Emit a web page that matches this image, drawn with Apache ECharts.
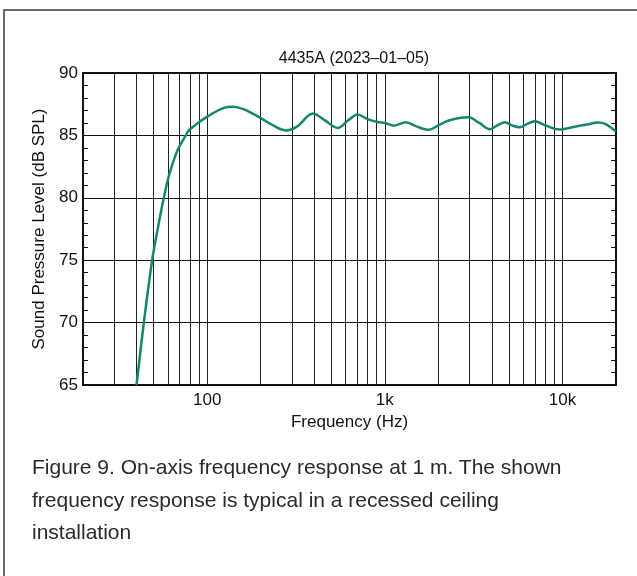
<!DOCTYPE html>
<html lang="en">
<head>
    <meta charset="UTF-8">
    <title>4435A frequency response</title>
    <style>
        html, body { margin: 0; padding: 0; background: #fff; overflow: hidden; }
        #frame { position: absolute; left: 3px; top: 9px; width: 800px; height: 800px; border: 2px solid #6a6a6a; }
        #main { position: absolute; left: 0; top: 0; width: 637px; height: 576px; }
        #caption { position: absolute; left: 32px; top: 451px; font-family: "Liberation Sans", Arial, sans-serif;
                   font-size: 21px; line-height: 32.5px; color: #2a2a2a; white-space: nowrap; }
    </style>
</head>
<body>
    <div id="frame"></div>
    <div id="main"></div>
    <div id="caption">Figure 9. On-axis frequency response at 1 m. The shown<br>frequency response is typical in a recessed ceiling<br>installation</div>
    <script src="https://cdn.jsdelivr.net/npm/echarts@6/dist/echarts.min.js"></script>
    <script>
    // frequency (Hz) and level (dB SPL)
    var freqs = [40, 44, 49, 52.5, 57, 61, 68, 74, 79, 88, 100, 124, 140, 160, 194, 235, 279, 320,
        394, 460, 543, 620, 703, 800, 909, 1000, 1126, 1309, 1520, 1768, 2000, 2290, 2950, 3400, 3908, 4300,
        4734, 5200, 5742, 6300, 6966, 8000, 9610, 11910, 14000, 15740, 17500, 20000];
    var levels = [65, 70, 75, 77.4, 80, 81.8, 83.8, 84.75, 85.4, 85.95, 86.5, 87.2, 87.3, 87.1, 86.5, 85.8, 85.4, 85.7,
        86.75, 86.2, 85.6, 86.2, 86.67, 86.3, 86.08, 86.0, 85.78, 86.05, 85.7, 85.45, 85.8, 86.2, 86.45, 86.0, 85.5, 85.8,
        86.06, 85.8, 85.65, 85.9, 86.14, 85.8, 85.47, 85.72, 85.9, 86.03, 85.9, 85.3];
    var gridFreqs = [30, 40, 50, 60, 70, 80, 90, 100, 200, 300, 400, 500, 600, 700, 800, 900, 1000,
        2000, 3000, 4000, 5000, 6000, 7000, 8000, 9000, 10000];
    var xLabels = { 100: '100', 1000: '1k', 10000: '10k' };

    var points = freqs.map(function(f, i) { return [f, levels[i]]; });
    var font = '"Liberation Sans", Arial, sans-serif';

    var myChart = echarts.init(document.getElementById('main'));

    var yCommon = {
        type: 'value',
        min: 65,
        max: 90,
        interval: 5,
        axisLine: { show: true, lineStyle: { color: '#111', width: 2 } },
        axisTick: { show: false, inside: true },
        minorTick: { show: true, splitNumber: 5, length: 5, lineStyle: { color: '#111', width: 1 } }
    };

    var option = {
        animation: false,
        title: {
            text: '4435A (2023\u201301\u201305)',
            left: 349,
            textAlign: 'center',
            top: 46,
            textStyle: { fontFamily: font, fontSize: 16, fontWeight: 'normal', color: '#111' }
        },
        grid: {
            left: 83,
            top: 73,
            right: 21,
            bottom: 191,
            show: true,
            borderColor: '#111',
            borderWidth: 2
        },
        xAxis: {
            type: 'log',
            logBase: 10,
            min: 20,
            max: 20000,
            name: 'Frequency (Hz)',
            nameLocation: 'middle',
            nameGap: 26,
            nameTextStyle: { fontFamily: font, fontSize: 17, color: '#111' },
            axisLine: { lineStyle: { color: '#111', width: 2 } },
            axisTick: { show: false },
            splitLine: { show: false },
            axisLabel: {
                margin: 7,
                fontFamily: font,
                fontSize: 17,
                color: '#111',
                showMinLabel: false,
                showMaxLabel: false,
                formatter: function(v) { return xLabels[Math.round(v)] || ''; }
            }
        },
        yAxis: [
            Object.assign({}, yCommon, {
                position: 'left',
                name: 'Sound Pressure Level (dB SPL)',
                nameLocation: 'middle',
                nameGap: 34,
                nameTextStyle: { fontFamily: font, fontSize: 17, color: '#111' },
                axisLabel: { margin: 5, fontFamily: font, fontSize: 17, color: '#111' },
                splitLine: { show: true, lineStyle: { color: '#111', width: 1 } }
            }),
            Object.assign({}, yCommon, {
                position: 'right',
                axisLabel: { show: false },
                splitLine: { show: false }
            })
        ],
        series: [{
            type: 'line',
            data: points,
            smooth: 0.35,
            symbol: 'none',
            clip: true,
            lineStyle: { color: '#16876a', width: 2.5 },
            markLine: {
                silent: true,
                symbol: 'none',
                animation: false,
                label: { show: false },
                lineStyle: { color: '#222', width: 1, type: 'solid' },
                data: gridFreqs.map(function(f) { return { xAxis: f }; })
            },
            z: 5
        }]
    };

    myChart.setOption(option);
    </script>
</body>
</html>
